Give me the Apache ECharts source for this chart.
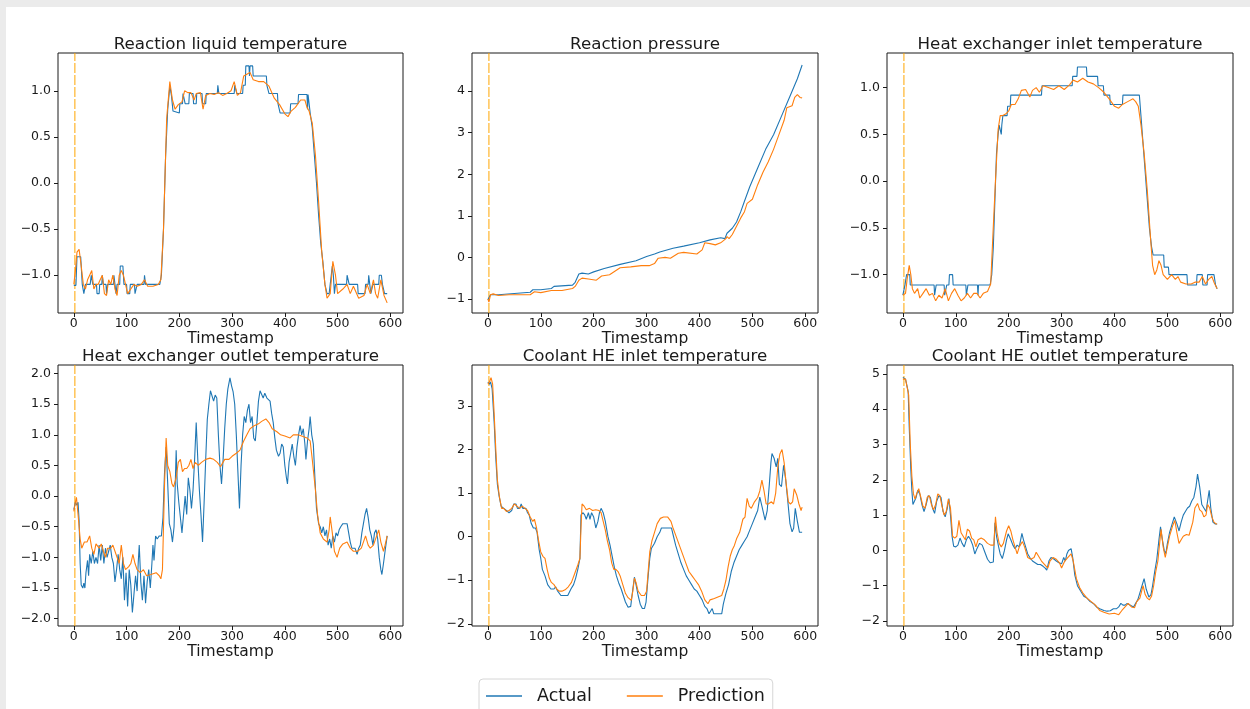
<!DOCTYPE html>
<html>
<head>
<meta charset="utf-8">
<script src="https://cdn.jsdelivr.net/npm/echarts@6/dist/echarts.min.js"></script>
<style>
  html, body { margin: 0; padding: 0; background: #ebebeb; }
  #paper { position: absolute; left: 6px; top: 7px; width: 1244px; height: 702px; background: #fff; }
  #main { position: absolute; left: 0; top: 0; width: 1250px; height: 709px; }
</style>
</head>
<body>
<div id="paper"></div>
<div id="main"></div>
<script>
// tick labels
const xTicks = [0, 100, 200, 300, 400, 500, 600];
const yTicksHalf = [-1, -0.5, 0, 0.5, 1];
const yTicksPressure = [-1, 0, 1, 2, 3, 4];
const yTicksOutlet = [-2, -1.5, -1, -0.5, 0, 0.5, 1, 1.5, 2];
const yTicksCoolIn = [-2, -1, 0, 1, 2, 3];
const yTicksCoolOut = [-2, -1, 0, 1, 2, 3, 4, 5];

const titles = [
  'Reaction liquid temperature', 'Reaction pressure', 'Heat exchanger inlet temperature',
  'Heat exchanger outlet temperature', 'Coolant HE inlet temperature', 'Coolant HE outlet temperature'
];
const seriesNames = ['Actual', 'Prediction'];
const windowStart = 2;

// [timestamp, value]
const liquidTempActual = [[0,-1.11],[4,-1.11],[6,-0.8],[13,-0.8],[16,-1.1],[19,-1.2],[22,-1.1],[31,-1.1],[33,-1.0],[36,-1.1],[43,-1.1],[44,-1.2],[48,-1.2],[49,-1.1],[53,-1.1],[54,-1.0],[56,-1.1],[61,-1.1],[62,-1.2],[64,-1.1],[75,-1.1],[76,-1.0],[78,-1.1],[80,-1.2],[82,-1.1],[87,-1.1],[88,-0.9],[93,-0.9],[95,-1.1],[100,-1.1],[101,-1.2],[106,-1.2],[107,-1.1],[115,-1.1],[116,-1.2],[119,-1.2],[120,-1.1],[133,-1.1],[134,-1.0],[136,-1.1],[163,-1.1],[166,-1.0],[170,-0.5],[174,0.3],[178,0.8],[182,1.05],[185,0.95],[188,0.78],[190,0.76],[200,0.76],[201,0.86],[206,0.86],[207,0.97],[210,0.97],[211,0.86],[218,0.86],[219,0.97],[226,0.97],[227,0.86],[232,0.86],[233,0.97],[243,0.97],[244,0.86],[250,0.86],[251,0.97],[272,0.97],[273,1.06],[275,0.97],[304,0.97],[305,1.06],[308,1.06],[309,0.97],[320,0.97],[321,1.06],[325,1.06],[326,1.27],[332,1.27],[333,1.16],[334,1.27],[339,1.27],[340,1.16],[365,1.16],[366,1.06],[369,1.06],[370,0.97],[386,0.97],[387,0.86],[390,0.86],[391,0.76],[410,0.76],[411,0.86],[425,0.86],[426,0.96],[442,0.96],[443,0.8],[444,0.96],[446,0.96],[448,0.76],[452,0.6],[456,0.3],[460,0.0],[464,-0.35],[468,-0.65],[472,-0.85],[476,-1.1],[480,-1.2],[484,-1.2],[486,-1.1],[488,-1.0],[490,-0.9],[492,-1.0],[494,-1.2],[496,-1.1],[517,-1.1],[518,-1.0],[521,-1.0],[522,-1.1],[538,-1.1],[539,-1.2],[552,-1.2],[553,-1.1],[558,-1.1],[559,-1.0],[562,-1.0],[563,-1.2],[566,-1.2],[567,-1.1],[578,-1.1],[579,-1.0],[583,-1.0],[585,-1.1],[588,-1.1],[589,-1.2],[594,-1.2]];
const liquidTempPred = [[0,-1.1],[3,-0.95],[6,-0.75],[10,-0.72],[14,-0.9],[18,-1.1],[22,-1.15],[26,-1.05],[30,-1.0],[34,-0.95],[38,-1.15],[42,-1.1],[46,-1.1],[50,-1.05],[54,-1.0],[58,-1.2],[62,-1.22],[66,-1.05],[70,-1.1],[74,-1.0],[78,-1.15],[82,-1.22],[86,-1.0],[90,-0.95],[94,-1.0],[98,-1.1],[102,-1.2],[108,-1.15],[114,-1.1],[120,-1.12],[128,-1.1],[134,-1.05],[140,-1.12],[150,-1.12],[160,-1.1],[165,-1.05],[170,-0.5],[176,0.7],[182,1.1],[187,0.9],[192,0.8],[198,0.85],[205,0.88],[210,1.0],[216,0.98],[222,0.98],[228,0.9],[232,0.97],[240,0.98],[245,0.8],[250,0.95],[258,0.97],[266,0.96],[274,0.98],[282,0.95],[290,0.97],[298,1.0],[304,1.1],[310,0.95],[316,0.98],[322,1.16],[328,1.18],[334,1.2],[340,1.12],[350,1.1],[360,1.1],[370,1.05],[380,0.92],[390,0.85],[400,0.75],[406,0.72],[412,0.78],[420,0.82],[430,0.9],[438,0.9],[442,0.82],[446,0.78],[452,0.65],[458,0.3],[464,-0.2],[470,-0.75],[476,-1.1],[480,-1.25],[486,-1.2],[491,-0.85],[496,-1.0],[500,-1.2],[510,-1.15],[518,-1.1],[524,-1.2],[530,-1.12],[540,-1.25],[550,-1.22],[556,-1.1],[562,-1.2],[568,-1.05],[572,-1.2],[576,-1.25],[582,-1.05],[588,-1.22],[594,-1.3]];

const pressureActual = [[0,-1.02],[5,-0.9],[20,-0.9],[50,-0.87],[80,-0.84],[85,-0.78],[100,-0.78],[120,-0.75],[125,-0.7],[160,-0.67],[165,-0.6],[172,-0.4],[178,-0.38],[190,-0.4],[200,-0.35],[220,-0.27],[250,-0.17],[280,-0.08],[300,0.02],[315,0.08],[325,0.13],[350,0.22],[370,0.27],[400,0.35],[420,0.42],[440,0.47],[448,0.45],[452,0.58],[462,0.7],[470,0.85],[478,1.1],[485,1.35],[495,1.7],[510,2.15],[525,2.6],[540,2.95],[555,3.4],[570,3.85],[585,4.3],[594,4.63]];
const pressurePred = [[0,-1.0],[2,-1.08],[5,-0.9],[10,-0.88],[20,-0.92],[40,-0.9],[60,-0.9],[80,-0.9],[88,-0.83],[100,-0.85],[120,-0.8],[140,-0.8],[160,-0.75],[165,-0.7],[172,-0.55],[178,-0.5],[190,-0.52],[205,-0.55],[215,-0.45],[230,-0.42],[250,-0.25],[270,-0.23],[290,-0.2],[305,-0.2],[315,-0.15],[322,-0.02],[335,0.0],[345,-0.02],[360,0.1],[370,0.12],[395,0.08],[405,0.18],[410,0.35],[420,0.33],[430,0.3],[440,0.35],[450,0.45],[452,0.5],[456,0.45],[462,0.55],[470,0.75],[478,0.95],[485,1.1],[490,1.3],[500,1.4],[510,1.75],[520,2.05],[530,2.3],[540,2.6],[550,2.95],[560,3.3],[565,3.6],[575,3.65],[580,3.85],[585,3.92],[590,3.85],[594,3.84]];

const heInletActual = [[0,-1.22],[3,-1.22],[4,-1.11],[6,-1.11],[7,-1.0],[13,-1.0],[14,-1.11],[59,-1.11],[60,-1.22],[62,-1.22],[63,-1.11],[78,-1.11],[79,-1.22],[82,-1.22],[83,-1.11],[87,-1.11],[88,-1.0],[94,-1.0],[95,-1.11],[119,-1.11],[120,-1.22],[122,-1.22],[123,-1.11],[141,-1.11],[142,-1.22],[143,-1.11],[165,-1.11],[168,-1.0],[171,-0.7],[174,-0.2],[177,0.3],[180,0.5],[182,0.6],[185,0.6],[186,0.5],[187,0.6],[189,0.7],[197,0.7],[198,0.8],[203,0.8],[204,0.92],[262,0.92],[263,1.02],[320,1.02],[321,1.12],[329,1.12],[330,1.22],[347,1.22],[348,1.12],[368,1.12],[369,1.02],[379,1.02],[380,0.92],[391,0.92],[392,0.82],[415,0.82],[416,0.92],[447,0.92],[450,0.7],[454,0.4],[458,0.1],[462,-0.2],[466,-0.5],[470,-0.7],[473,-0.79],[493,-0.79],[494,-0.92],[502,-0.92],[503,-1.0],[537,-1.0],[538,-1.11],[555,-1.11],[556,-1.0],[566,-1.0],[567,-1.11],[575,-1.11],[576,-1.0],[588,-1.0],[591,-1.11],[594,-1.15]];
const heInletPred = [[0,-1.22],[5,-1.2],[8,-1.05],[12,-0.9],[15,-1.0],[18,-1.15],[22,-1.2],[28,-1.15],[32,-1.25],[38,-1.2],[44,-1.15],[50,-1.22],[56,-1.2],[62,-1.28],[68,-1.22],[74,-1.25],[80,-1.15],[86,-1.28],[92,-1.2],[98,-1.15],[104,-1.22],[110,-1.28],[116,-1.25],[122,-1.2],[128,-1.25],[134,-1.2],[140,-1.2],[146,-1.25],[152,-1.2],[160,-1.18],[166,-1.1],[170,-0.6],[175,0.0],[180,0.55],[184,0.7],[188,0.7],[195,0.72],[200,0.75],[205,0.82],[212,0.82],[218,0.88],[224,0.97],[232,0.98],[240,0.9],[245,0.97],[252,1.0],[258,0.95],[265,1.02],[275,1.0],[285,0.98],[295,1.02],[305,0.98],[315,1.03],[322,1.08],[330,1.06],[340,1.1],[350,1.06],[360,1.04],[370,1.0],[380,0.95],[390,0.88],[400,0.8],[408,0.78],[415,0.82],[425,0.85],[435,0.88],[440,0.85],[445,0.8],[450,0.6],[456,0.3],[462,-0.1],[468,-0.6],[472,-0.9],[476,-1.0],[480,-0.95],[484,-0.85],[488,-0.9],[492,-1.0],[500,-1.05],[508,-1.0],[515,-1.05],[520,-1.02],[525,-1.08],[535,-1.1],[545,-1.1],[552,-1.08],[560,-1.08],[566,-1.02],[572,-1.1],[578,-1.05],[584,-1.02],[588,-1.08],[594,-1.15]];

const heOutletActual = [[0,-0.22],[3,-0.1],[6,-0.15],[8,-0.1],[10,-0.4],[12,-1.1],[14,-1.45],[17,-1.5],[19,-1.42],[21,-1.5],[23,-1.25],[26,-1.05],[28,-1.3],[30,-0.95],[33,-1.1],[36,-0.9],[39,-1.1],[42,-1.0],[45,-1.1],[48,-0.8],[51,-1.05],[54,-0.8],[57,-1.1],[60,-0.85],[63,-1.0],[66,-0.9],[69,-0.8],[72,-1.0],[75,-1.1],[78,-1.4],[81,-1.2],[84,-0.95],[87,-1.2],[90,-1.35],[93,-1.0],[96,-1.7],[99,-1.25],[102,-1.8],[105,-1.2],[108,-1.45],[111,-1.9],[114,-1.6],[117,-1.3],[120,-1.55],[122,-1.1],[124,-0.8],[127,-1.4],[130,-1.7],[133,-1.3],[136,-1.75],[139,-1.4],[142,-1.2],[145,-1.5],[148,-1.1],[150,-0.8],[152,-1.05],[155,-0.65],[158,-0.7],[162,-0.65],[166,-0.65],[169,-0.35],[172,0.4],[175,0.8],[178,0.2],[181,-0.45],[184,-0.55],[187,-0.75],[190,-0.5],[192,0.1],[194,0.75],[196,0.2],[199,-0.1],[202,-0.35],[205,-0.6],[208,-0.3],[211,0.0],[214,-0.3],[217,0.3],[220,0.1],[223,-0.2],[226,0.1],[229,0.6],[232,1.2],[235,0.6],[238,0.1],[241,-0.3],[244,-0.75],[247,-0.1],[250,0.6],[253,1.25],[256,1.5],[259,1.72],[262,1.7],[265,1.55],[268,1.65],[271,1.6],[274,1.0],[277,0.5],[280,0.2],[283,0.6],[286,1.1],[289,1.5],[292,1.75],[296,1.93],[299,1.8],[302,1.7],[305,1.5],[308,1.0],[311,0.4],[314,-0.2],[317,0.5],[320,1.0],[323,1.3],[326,1.2],[329,1.4],[332,1.5],[335,1.2],[338,1.3],[341,0.95],[344,0.9],[347,1.2],[350,1.55],[353,1.72],[356,1.7],[359,1.6],[362,1.68],[366,1.6],[369,1.6],[372,1.55],[375,1.35],[378,1.2],[381,0.95],[384,0.75],[388,0.65],[391,0.7],[394,0.85],[397,0.8],[400,0.5],[403,0.3],[405,0.2],[408,0.55],[411,0.7],[414,0.85],[417,0.65],[420,0.5],[423,0.8],[426,1.0],[429,1.15],[432,1.0],[435,1.1],[438,0.85],[440,0.6],[443,0.9],[446,1.1],[448,1.3],[451,1.0],[454,0.85],[457,0.3],[460,-0.2],[464,-0.45],[467,-0.5],[470,-0.6],[473,-0.5],[476,-0.65],[479,-0.55],[482,-0.8],[485,-0.7],[488,-0.85],[491,-0.65],[494,-0.75],[497,-0.6],[500,-0.65],[503,-0.55],[506,-0.5],[510,-0.45],[518,-0.45],[521,-0.6],[524,-0.75],[527,-0.85],[533,-0.85],[537,-0.95],[540,-0.85],[543,-0.8],[546,-0.6],[549,-0.45],[552,-0.3],[555,-0.2],[558,-0.35],[561,-0.55],[564,-0.65],[567,-0.8],[570,-0.6],[573,-0.55],[576,-0.7],[579,-1.0],[582,-1.2],[584,-1.28],[587,-1.1],[590,-0.9],[594,-0.65]];
const heOutletPred = [[0,-0.25],[3,-0.1],[5,-0.02],[8,-0.3],[12,-0.7],[15,-0.85],[20,-0.75],[25,-0.75],[30,-0.65],[34,-0.85],[38,-0.95],[42,-0.78],[48,-0.85],[52,-0.78],[56,-0.9],[60,-1.0],[64,-0.85],[70,-0.85],[74,-0.8],[78,-0.9],[82,-1.0],[86,-1.1],[90,-0.8],[94,-1.1],[98,-1.2],[104,-1.15],[108,-1.1],[112,-0.95],[116,-1.1],[120,-1.2],[126,-1.25],[132,-1.2],[138,-1.3],[146,-1.28],[156,-1.25],[162,-1.3],[165,-1.35],[168,-1.2],[172,0.2],[175,0.95],[178,0.5],[182,0.4],[186,0.2],[189,0.15],[194,0.3],[198,0.55],[202,0.6],[206,0.4],[210,0.45],[214,0.45],[218,0.5],[222,0.6],[226,0.45],[230,0.55],[236,0.5],[242,0.55],[250,0.6],[258,0.62],[265,0.6],[272,0.55],[278,0.48],[286,0.6],[294,0.6],[300,0.65],[308,0.7],[315,0.75],[322,0.9],[328,1.0],[334,1.1],[342,1.15],[350,1.18],[356,1.22],[364,1.26],[370,1.2],[376,1.1],[385,1.05],[392,1.0],[400,0.98],[410,0.95],[416,1.0],[425,1.0],[432,0.98],[442,0.95],[448,0.9],[452,0.6],[458,0.1],[462,-0.3],[467,-0.6],[473,-0.7],[480,-0.75],[484,-0.55],[486,-0.34],[490,-0.6],[494,-0.9],[499,-1.0],[504,-0.85],[510,-0.78],[518,-0.75],[524,-0.85],[530,-0.9],[538,-0.9],[545,-0.85],[553,-0.65],[558,-0.8],[562,-0.85],[568,-0.8],[574,-0.65],[578,-0.55],[582,-0.75],[587,-0.9],[590,-0.8],[594,-0.65]];

const coolantInActual = [[0,3.55],[3,3.5],[5,3.55],[8,3.4],[12,2.6],[15,1.8],[18,1.2],[21,0.95],[25,0.7],[30,0.65],[35,0.6],[40,0.55],[45,0.6],[49,0.75],[53,0.75],[56,0.65],[60,0.65],[63,0.75],[66,0.65],[72,0.65],[75,0.55],[78,0.5],[82,0.3],[86,0.2],[90,0.2],[93,0.1],[97,-0.3],[100,-0.5],[103,-0.75],[108,-0.9],[113,-1.1],[119,-1.2],[125,-1.2],[128,-1.15],[132,-1.25],[138,-1.35],[151,-1.35],[157,-1.2],[162,-1.1],[166,-0.95],[170,-0.75],[174,-0.5],[176,0.5],[180,0.55],[183,0.5],[186,0.4],[190,0.55],[193,0.4],[196,0.55],[200,0.45],[204,0.2],[208,0.35],[211,0.55],[214,0.65],[218,0.55],[222,0.35],[227,0.0],[231,-0.2],[235,-0.45],[239,-0.7],[243,-0.9],[247,-1.05],[252,-1.2],[256,-1.35],[260,-1.5],[265,-1.62],[270,-1.6],[274,-1.2],[277,-0.93],[280,-1.1],[284,-1.35],[288,-1.55],[292,-1.65],[296,-1.65],[299,-1.5],[303,-0.9],[306,-0.5],[309,-0.27],[315,-0.15],[320,0.0],[325,0.1],[328,0.2],[347,0.2],[350,0.05],[355,-0.2],[360,-0.4],[365,-0.6],[370,-0.75],[375,-0.9],[380,-1.0],[385,-1.1],[390,-1.2],[395,-1.25],[400,-1.35],[405,-1.45],[410,-1.6],[414,-1.65],[418,-1.77],[424,-1.65],[427,-1.77],[442,-1.77],[445,-1.55],[450,-1.3],[455,-1.1],[460,-0.8],[465,-0.6],[470,-0.45],[475,-0.3],[480,-0.2],[485,-0.1],[490,0.0],[495,0.15],[500,0.3],[505,0.45],[510,0.6],[514,0.91],[518,0.7],[524,0.38],[528,0.6],[532,1.2],[535,1.7],[537,1.91],[541,1.8],[545,1.6],[548,1.8],[551,1.2],[555,1.15],[559,1.64],[563,1.3],[567,0.8],[571,0.3],[575,0.11],[578,0.2],[581,0.65],[585,0.35],[589,0.1],[594,0.1]];
const coolantInPred = [[0,3.5],[3,3.55],[6,3.65],[9,3.5],[12,2.8],[15,2.0],[18,1.3],[22,0.9],[26,0.65],[30,0.65],[35,0.58],[40,0.6],[45,0.65],[50,0.75],[55,0.7],[60,0.65],[65,0.7],[70,0.65],[75,0.6],[80,0.45],[85,0.35],[88,0.4],[92,0.2],[96,-0.1],[100,-0.35],[104,-0.45],[108,-0.5],[112,-0.75],[116,-0.95],[120,-1.05],[125,-1.1],[130,-1.2],[135,-1.25],[140,-1.25],[146,-1.22],[152,-1.15],[158,-1.05],[164,-0.85],[170,-0.65],[174,-0.5],[176,0.2],[178,0.75],[182,0.7],[186,0.62],[192,0.65],[198,0.6],[204,0.62],[210,0.6],[214,0.55],[218,0.35],[222,0.15],[226,-0.1],[230,-0.3],[234,-0.6],[238,-0.75],[242,-0.75],[246,-0.8],[250,-0.9],[255,-1.1],[260,-1.3],[265,-1.4],[271,-1.46],[274,-1.25],[277,-0.95],[280,-1.05],[284,-1.25],[290,-1.35],[296,-1.35],[300,-1.25],[303,-0.8],[306,-0.35],[310,-0.1],[315,0.1],[320,0.3],[326,0.42],[332,0.45],[340,0.45],[346,0.35],[350,0.2],[356,0.0],[362,-0.2],[368,-0.4],[374,-0.6],[380,-0.8],[386,-0.9],[392,-1.0],[398,-1.1],[404,-1.25],[410,-1.45],[416,-1.54],[420,-1.45],[428,-1.42],[436,-1.38],[442,-1.35],[446,-1.2],[450,-1.0],[454,-0.7],[458,-0.45],[462,-0.3],[466,-0.2],[470,-0.05],[476,0.1],[482,0.4],[486,0.45],[490,0.88],[494,0.7],[498,0.65],[504,0.8],[510,0.9],[514,1.05],[518,1.3],[522,1.05],[526,0.75],[530,0.75],[536,0.8],[540,0.75],[544,1.0],[548,1.6],[552,1.9],[556,2.0],[560,1.7],[564,1.2],[568,0.8],[572,0.75],[576,0.8],[579,1.1],[584,0.95],[588,0.75],[592,0.6],[594,0.68]];

const coolantOutActual = [[0,4.9],[5,4.85],[8,4.8],[10,4.5],[12,3.5],[13,3.1],[15,2.3],[17,1.7],[19,1.3],[22,1.25],[25,1.5],[28,1.7],[32,1.6],[36,1.3],[40,1.1],[44,1.3],[48,1.55],[52,1.5],[56,1.2],[60,1.05],[64,1.4],[68,1.55],[72,1.5],[76,1.1],[80,0.95],[84,1.2],[87,1.47],[90,1.0],[93,0.4],[96,0.12],[100,0.1],[104,0.15],[108,0.35],[112,0.2],[116,0.1],[120,0.3],[124,0.4],[128,0.3],[132,0.15],[136,-0.1],[140,0.05],[145,0.2],[150,0.15],[155,-0.05],[160,-0.25],[165,-0.35],[171,-0.33],[174,0.78],[177,0.4],[181,0.1],[184,-0.1],[188,-0.23],[192,0.0],[196,0.3],[199,0.47],[204,0.3],[208,0.15],[212,0.05],[216,0.15],[220,0.1],[225,0.48],[228,0.3],[232,0.1],[236,-0.1],[240,-0.2],[245,-0.3],[250,-0.35],[255,-0.4],[260,-0.4],[265,-0.45],[269,-0.5],[272,-0.56],[276,-0.3],[280,-0.2],[286,-0.25],[290,-0.3],[295,-0.35],[300,-0.38],[304,-0.2],[307,-0.3],[310,-0.1],[313,0.0],[318,0.05],[321,-0.2],[325,-0.7],[330,-1.0],[336,-1.15],[342,-1.3],[348,-1.35],[354,-1.45],[360,-1.5],[366,-1.6],[372,-1.65],[380,-1.7],[386,-1.72],[392,-1.71],[398,-1.65],[404,-1.65],[408,-1.6],[412,-1.5],[416,-1.55],[420,-1.55],[424,-1.5],[430,-1.55],[436,-1.6],[440,-1.5],[444,-1.4],[448,-1.2],[452,-1.0],[456,-0.8],[460,-1.1],[465,-1.32],[469,-1.25],[472,-1.0],[476,-0.6],[480,-0.25],[484,0.3],[487,0.67],[490,0.35],[494,0.0],[497,-0.09],[500,0.2],[504,0.5],[508,0.7],[513,0.95],[518,0.75],[522,0.55],[526,0.8],[530,1.0],[534,1.1],[538,1.2],[542,1.25],[546,1.4],[550,1.5],[554,1.8],[557,2.16],[561,1.8],[565,1.3],[569,1.2],[573,1.1],[576,1.4],[579,1.7],[582,1.2],[586,0.8],[590,0.75],[594,0.75]];
const coolantOutPred = [[0,4.85],[5,4.85],[8,4.8],[11,4.4],[14,3.0],[17,2.1],[20,1.6],[23,1.45],[26,1.6],[30,1.75],[34,1.5],[38,1.25],[42,1.2],[46,1.5],[50,1.55],[54,1.3],[58,1.15],[62,1.3],[66,1.6],[70,1.55],[74,1.25],[78,1.0],[82,1.1],[86,1.45],[90,1.2],[94,0.4],[98,0.35],[102,0.4],[106,0.85],[110,0.5],[114,0.4],[118,0.3],[122,0.6],[126,0.55],[130,0.35],[134,0.3],[138,0.1],[142,0.3],[148,0.35],[154,0.3],[160,0.2],[166,0.15],[172,0.15],[175,0.95],[178,0.5],[182,0.2],[186,0.1],[190,0.2],[196,0.55],[200,0.7],[204,0.55],[208,0.3],[212,0.1],[216,-0.1],[220,0.1],[226,0.25],[230,0.1],[236,-0.2],[242,-0.25],[248,-0.2],[252,-0.05],[256,-0.15],[262,-0.3],[268,-0.4],[274,-0.5],[278,-0.3],[284,-0.2],[290,-0.25],[296,-0.35],[300,-0.5],[306,-0.3],[312,-0.2],[318,-0.1],[322,-0.3],[328,-0.8],[334,-1.05],[340,-1.2],[348,-1.35],[356,-1.45],[364,-1.55],[372,-1.7],[380,-1.75],[390,-1.8],[400,-1.78],[408,-1.82],[414,-1.7],[420,-1.6],[426,-1.5],[432,-1.6],[438,-1.62],[442,-1.45],[448,-1.35],[454,-1.0],[458,-1.25],[462,-1.35],[466,-1.4],[470,-1.3],[474,-1.0],[478,-0.6],[482,-0.3],[486,0.3],[488,0.6],[492,0.1],[496,-0.2],[500,0.1],[504,0.4],[510,0.7],[514,0.85],[518,0.5],[522,0.2],[526,0.3],[530,0.4],[536,0.45],[541,0.43],[548,0.8],[552,1.2],[557,1.33],[561,1.15],[565,1.1],[569,0.95],[573,1.0],[576,1.3],[580,1.2],[584,0.95],[588,0.8],[592,0.75],[594,0.75]];

const FONT = 'DejaVu Sans';
const INK = '#1a1a1a';

const panels = [
  { actual: liquidTempActual, pred: liquidTempPred, yMin: -1.41, yMax: 1.41, ticks: yTicksHalf, digits: 1 },
  { actual: pressureActual, pred: pressurePred, yMin: -1.34, yMax: 4.92, ticks: yTicksPressure, digits: 0 },
  { actual: heInletActual, pred: heInletPred, yMin: -1.41, yMax: 1.37, ticks: yTicksHalf, digits: 1 },
  { actual: heOutletActual, pred: heOutletPred, yMin: -2.12, yMax: 2.14, ticks: yTicksOutlet, digits: 1 },
  { actual: coolantInActual, pred: coolantInPred, yMin: -2.05, yMax: 3.94, ticks: yTicksCoolIn, digits: 0 },
  { actual: coolantOutActual, pred: coolantOutPred, yMin: -2.14, yMax: 5.25, ticks: yTicksCoolOut, digits: 0 }
];

const colLeft = [58, 472, 887];
const colWidth = [345, 346, 346];
const rowTop = [53, 365];
const rowHeight = [260, 261];
const titleTop = [36.5, 348.5];

let grid = [], xAxis = [], yAxis = [], series = [], title = [];

panels.forEach((p, i) => {
  const col = i % 3, row = Math.floor(i / 3);
  grid.push({
    left: colLeft[col], top: rowTop[row], width: colWidth[col], height: rowHeight[row],
    show: true, borderColor: INK, borderWidth: 1, backgroundColor: 'transparent'
  });
  title.push({
    text: titles[i],
    left: colLeft[col] + colWidth[col] / 2,
    top: titleTop[row],
    textAlign: 'center',
    padding: 0,
    textStyle: { fontFamily: FONT, fontSize: 16.7, fontWeight: 'normal', color: INK }
  });
  xAxis.push({
    type: 'value', gridIndex: i, min: -30, max: 624,
    name: 'Timestamp', nameLocation: 'middle', nameGap: 18,
    nameTextStyle: { fontFamily: FONT, fontSize: 15.5, color: INK },
    splitLine: { show: false },
    axisLine: { show: false, onZero: false },
    axisTick: { show: true, inside: false, length: 4, customValues: xTicks, lineStyle: { color: INK } },
    axisLabel: { customValues: xTicks, margin: 4, fontFamily: FONT, fontSize: 12.5, color: INK }
  });
  yAxis.push({
    type: 'value', gridIndex: i, min: p.yMin, max: p.yMax,
    splitLine: { show: false },
    axisLine: { show: false, onZero: false },
    axisTick: { show: true, inside: false, length: 4, customValues: p.ticks, lineStyle: { color: INK } },
    axisLabel: {
      customValues: p.ticks, margin: 7, fontFamily: FONT, fontSize: 12.5, color: INK,
      formatter: v => v.toFixed(p.digits).replace('-', '\u2212')
    }
  });
  // start of the prediction window, drawn as an axvline
  series.push({
    name: 'window', type: 'line', xAxisIndex: i, yAxisIndex: i, silent: true,
    data: [[windowStart, p.yMin], [windowStart, p.yMax]], symbol: 'none',
    lineStyle: { width: 1, color: '#ffa500', type: [10, 2] }
  });
  series.push({
    name: seriesNames[0], type: 'line', xAxisIndex: i, yAxisIndex: i,
    data: p.actual, symbol: 'none', showSymbol: false,
    lineStyle: { width: 1.1, color: '#1f77b4' }, itemStyle: { color: '#1f77b4' }
  });
  series.push({
    name: seriesNames[1], type: 'line', xAxisIndex: i, yAxisIndex: i,
    data: p.pred, symbol: 'none', showSymbol: false,
    lineStyle: { width: 1.1, color: '#ff7f0e' }, itemStyle: { color: '#ff7f0e' }
  });
});

const chart = echarts.init(document.getElementById('main'));
chart.setOption({
  animation: false,
  backgroundColor: 'transparent',
  title: title,
  grid: grid,
  xAxis: xAxis,
  yAxis: yAxis,
  legend: {
    data: seriesNames,
    left: 479, top: 679,
    icon: 'rect', itemWidth: 36, itemHeight: 1.5, itemGap: 35,
    padding: [8, 8, 12, 7],
    borderColor: '#d6d6d6', borderWidth: 1, borderRadius: 4,
    backgroundColor: '#fff',
    textStyle: { fontFamily: FONT, fontSize: 17.5, color: INK, padding: [0, 0, 0, 10] }
  },
  series: series
});
</script>
</body>
</html>
